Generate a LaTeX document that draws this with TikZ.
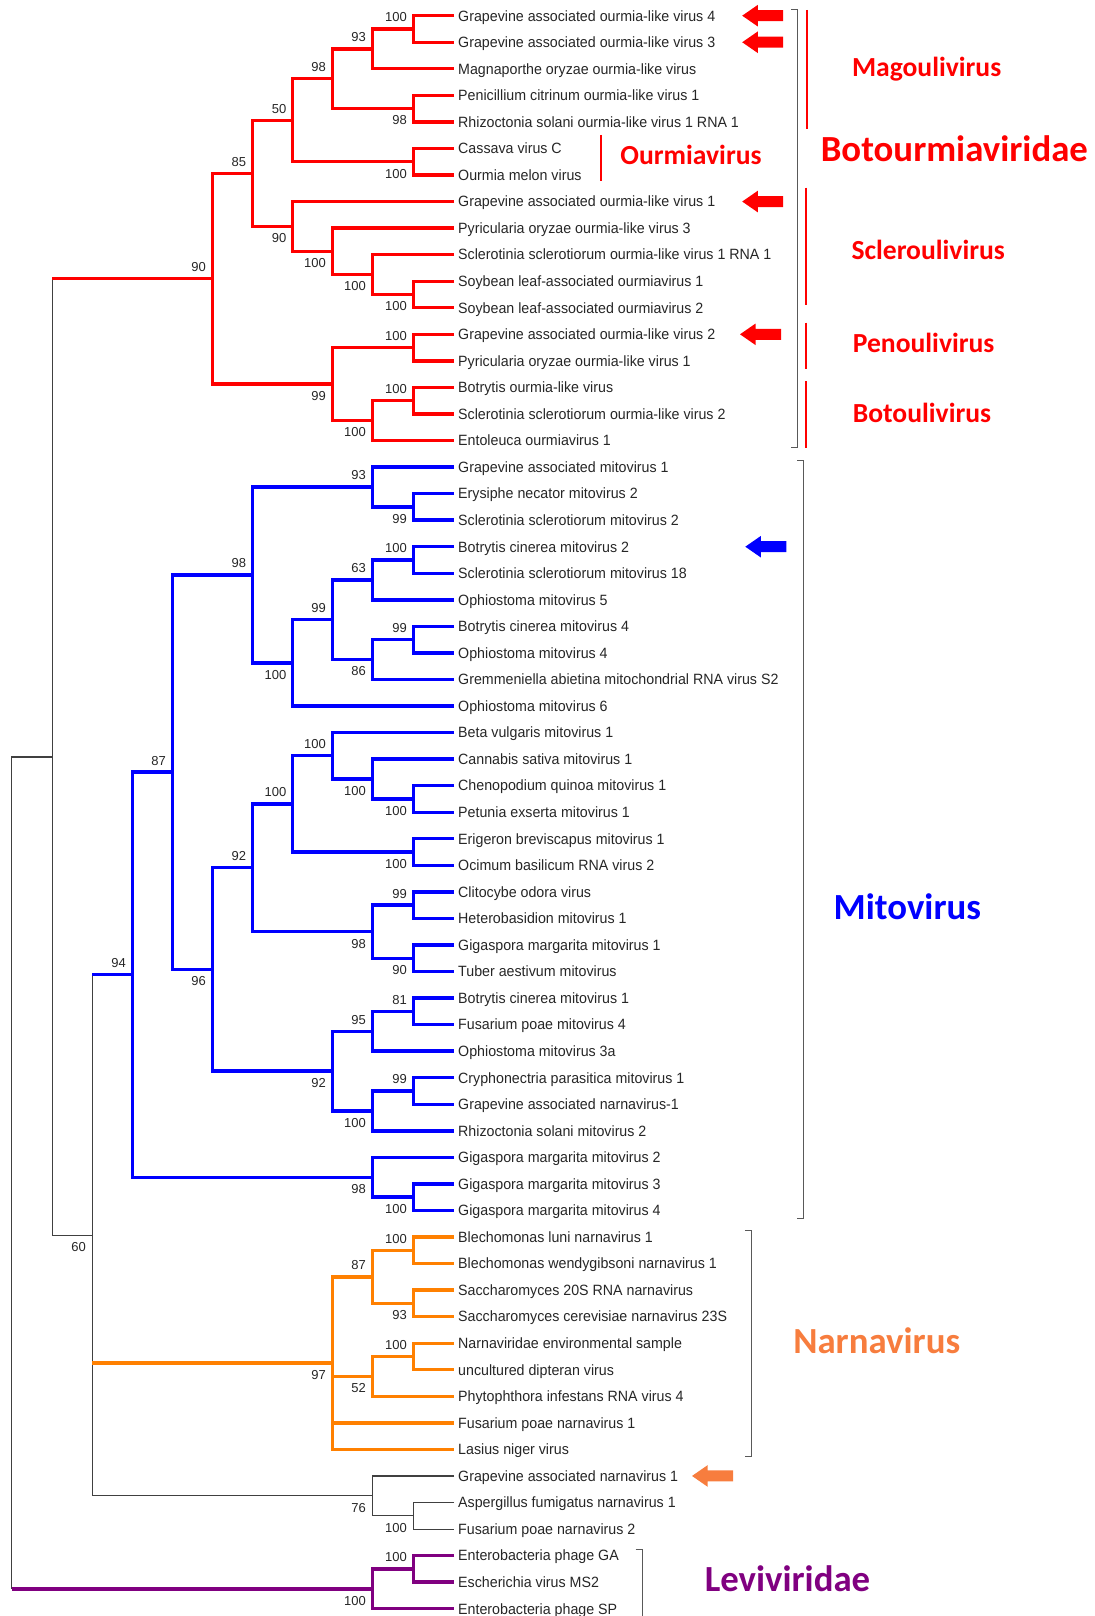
\documentclass[tikz,border=0pt]{standalone}
\usepackage{fontspec}
\setmainfont{Liberation Sans}
\newfontfamily\leaffont[FakeStretch=0.955]{Liberation Sans}
\newfontfamily\cladefont{Carlito}
\definecolor{treeorange}{RGB}{255,128,0}
\definecolor{tagorange}{RGB}{247,125,62}
\definecolor{treepurple}{RGB}{128,0,128}

\begin{document}
\begin{tikzpicture}
[
x=0.5pt, y=-13.275pt,
leaf_txt/.style={anchor=west, inner xsep=1.8pt, inner ysep=0pt, text height=5.33pt, text depth=0pt, font=\leaffont\fontsize{7.45pt}{9pt}\selectfont, text=black!85},
bs_num/.style={inner sep=0pt, text height=4.65pt, text depth=0pt, font=\fontsize{6.5pt}{7pt}\selectfont, text=black!85, xshift=-3pt},
bs_up/.style={label={[bs_num, yshift=5.85pt]left:#1}},
bs_dn/.style={label={[bs_num, yshift=-5.85pt]left:#1}},
red_br/.style={draw=red, line width=1.7pt},
blu_br/.style={draw=blue, line width=1.7pt},
org_br/.style={draw=treeorange, line width=1.7pt},
pur_br/.style={draw=treepurple, line width=1.7pt},
thin_br/.style={draw=black!75, line width=0.55pt},
bracket/.style={draw=black!65, line width=0.55pt},
genus_bar/.style={draw=red, line width=0.75pt},
genus_lab/.style={anchor=west, inner sep=0pt, text height=8.7pt, text depth=0pt, font=\cladefont\bfseries\fontsize{13.8pt}{15pt}\selectfont},
family_lab/.style={anchor=west, inner sep=0pt, text height=11.6pt, text depth=0pt, font=\cladefont\bfseries\fontsize{18.4pt}{20pt}\selectfont},
tag_arrow/.pic={\fill (0pt,0pt) -- (7.8pt,5.4pt) -- (7.8pt,2.75pt) -- (20.5pt,2.75pt) -- (20.5pt,-2.75pt) -- (7.8pt,-2.75pt) -- (7.8pt,-5.4pt) -- cycle;}
]
\useasboundingbox (0,-0.5913) rectangle (1095,60.275);

%Leaves
\node[leaf_txt] (ga_olv4)  at (454.2,0)  {Grapevine associated ourmia-like virus 4};
\node[leaf_txt] (ga_olv3)  at (454.2,1)  {Grapevine associated ourmia-like virus 3};
\node[leaf_txt] (mo_olv)   at (454.2,2)  {Magnaporthe oryzae ourmia-like virus};
\node[leaf_txt] (pc_olv1)  at (454.2,3)  {Penicillium citrinum ourmia-like virus 1};
\node[leaf_txt] (rs_olv1)  at (454.2,4)  {Rhizoctonia solani ourmia-like virus 1 RNA 1};
\node[leaf_txt] (cas_c)    at (454.2,5)  {Cassava virus C};
\node[leaf_txt] (omv)      at (454.2,6)  {Ourmia melon virus};
\node[leaf_txt] (ga_olv1)  at (454.2,7)  {Grapevine associated ourmia-like virus 1};
\node[leaf_txt] (po_olv3)  at (454.2,8)  {Pyricularia oryzae ourmia-like virus 3};
\node[leaf_txt] (ss_olv1)  at (454.2,9)  {Sclerotinia sclerotiorum ourmia-like virus 1 RNA 1};
\node[leaf_txt] (sl_ov1)   at (454.2,10) {Soybean leaf-associated ourmiavirus 1};
\node[leaf_txt] (sl_ov2)   at (454.2,11) {Soybean leaf-associated ourmiavirus 2};
\node[leaf_txt] (ga_olv2)  at (454.2,12) {Grapevine associated ourmia-like virus 2};
\node[leaf_txt] (po_olv1)  at (454.2,13) {Pyricularia oryzae ourmia-like virus 1};
\node[leaf_txt] (bo_olv)   at (454.2,14) {Botrytis ourmia-like virus};
\node[leaf_txt] (ss_olv2)  at (454.2,15) {Sclerotinia sclerotiorum ourmia-like virus 2};
\node[leaf_txt] (eo_v1)    at (454.2,16) {Entoleuca ourmiavirus 1};
\node[leaf_txt] (ga_mv1)   at (454.2,17) {Grapevine associated mitovirus 1};
\node[leaf_txt] (en_mv2)   at (454.2,18) {Erysiphe necator mitovirus 2};
\node[leaf_txt] (ss_mv2)   at (454.2,19) {Sclerotinia sclerotiorum mitovirus 2};
\node[leaf_txt] (bc_mv2)   at (454.2,20) {Botrytis cinerea mitovirus 2};
\node[leaf_txt] (ss_mv18)  at (454.2,21) {Sclerotinia sclerotiorum mitovirus 18};
\node[leaf_txt] (op_mv5)   at (454.2,22) {Ophiostoma mitovirus 5};
\node[leaf_txt] (bc_mv4)   at (454.2,23) {Botrytis cinerea mitovirus 4};
\node[leaf_txt] (op_mv4)   at (454.2,24) {Ophiostoma mitovirus 4};
\node[leaf_txt] (ga_rv)    at (454.2,25) {Gremmeniella abietina mitochondrial RNA virus S2};
\node[leaf_txt] (op_mv6)   at (454.2,26) {Ophiostoma mitovirus 6};
\node[leaf_txt] (bv_mv1)   at (454.2,27) {Beta vulgaris mitovirus 1};
\node[leaf_txt] (cs_mv1)   at (454.2,28) {Cannabis sativa mitovirus 1};
\node[leaf_txt] (cq_mv1)   at (454.2,29) {Chenopodium quinoa mitovirus 1};
\node[leaf_txt] (pe_mv1)   at (454.2,30) {Petunia exserta mitovirus 1};
\node[leaf_txt] (eb_mv1)   at (454.2,31) {Erigeron breviscapus mitovirus 1};
\node[leaf_txt] (ob_rv2)   at (454.2,32) {Ocimum basilicum RNA virus 2};
\node[leaf_txt] (co_v)     at (454.2,33) {Clitocybe odora virus};
\node[leaf_txt] (he_mv1)   at (454.2,34) {Heterobasidion mitovirus 1};
\node[leaf_txt] (gm_mv1)   at (454.2,35) {Gigaspora margarita mitovirus 1};
\node[leaf_txt] (ta_mv)    at (454.2,36) {Tuber aestivum mitovirus};
\node[leaf_txt] (bc_mv1)   at (454.2,37) {Botrytis cinerea mitovirus 1};
\node[leaf_txt] (fp_mv4)   at (454.2,38) {Fusarium poae mitovirus 4};
\node[leaf_txt] (op_mv3a)  at (454.2,39) {Ophiostoma mitovirus 3a};
\node[leaf_txt] (cp_mv1)   at (454.2,40) {Cryphonectria parasitica mitovirus 1};
\node[leaf_txt] (ga_nv_1)  at (454.2,41) {Grapevine associated narnavirus-1};
\node[leaf_txt] (rs_mv2)   at (454.2,42) {Rhizoctonia solani mitovirus 2};
\node[leaf_txt] (gm_mv2)   at (454.2,43) {Gigaspora margarita mitovirus 2};
\node[leaf_txt] (gm_mv3)   at (454.2,44) {Gigaspora margarita mitovirus 3};
\node[leaf_txt] (gm_mv4)   at (454.2,45) {Gigaspora margarita mitovirus 4};
\node[leaf_txt] (bl_nv1)   at (454.2,46) {Blechomonas luni narnavirus 1};
\node[leaf_txt] (bw_nv1)   at (454.2,47) {Blechomonas wendygibsoni narnavirus 1};
\node[leaf_txt] (sc_20s)   at (454.2,48) {Saccharomyces 20S RNA narnavirus};
\node[leaf_txt] (sc_23s)   at (454.2,49) {Saccharomyces cerevisiae narnavirus 23S};
\node[leaf_txt] (nv_env)   at (454.2,50) {Narnaviridae environmental sample};
\node[leaf_txt] (ud_v)     at (454.2,51) {uncultured dipteran virus};
\node[leaf_txt] (pi_rv4)   at (454.2,52) {Phytophthora infestans RNA virus 4};
\node[leaf_txt] (fp_nv1)   at (454.2,53) {Fusarium poae narnavirus 1};
\node[leaf_txt] (ln_v)     at (454.2,54) {Lasius niger virus};
\node[leaf_txt] (ga_nv1)   at (454.2,55) {Grapevine associated narnavirus 1};
\node[leaf_txt] (af_nv1)   at (454.2,56) {Aspergillus fumigatus narnavirus 1};
\node[leaf_txt] (fp_nv2)   at (454.2,57) {Fusarium poae narnavirus 2};
\node[leaf_txt] (ph_ga)    at (454.2,58) {Enterobacteria phage GA};
\node[leaf_txt] (ev_ms2)   at (454.2,59) {Escherichia virus MS2};
\node[leaf_txt] (ph_sp)    at (454.2,60) {Enterobacteria phage SP};

%Branch points
\coordinate[bs_up=100] (red_a) at (413.3,0.5);
\coordinate[bs_up=93]  (red_b) at (372.3,1.25);
\coordinate[bs_dn=98]  (red_c) at (413.3,3.5);
\coordinate[bs_up=98]  (red_d) at (332.3,2.375);
\coordinate[bs_dn=100] (red_e) at (413.3,5.5);
\coordinate[bs_up=50]  (red_f) at (292.7,3.9375);
\coordinate[bs_dn=100] (red_g) at (413.3,10.5);
\coordinate[bs_dn=100] (red_h) at (372.3,9.75);
\coordinate[bs_dn=100] (red_i) at (332.3,8.875);
\coordinate[bs_dn=90]  (red_j) at (292.7,7.9375);
\coordinate[bs_up=85]  (red_k) at (252.5,5.9375);
\coordinate[bs_up=100] (red_l) at (413.3,12.5);
\coordinate[bs_up=100] (red_m) at (413.3,14.5);
\coordinate[bs_dn=100] (red_n) at (372.3,15.25);
\coordinate[bs_dn=99]  (red_o) at (332.3,13.875);
\coordinate[bs_up=90]  (red_p) at (212.3,9.90625);

\coordinate[bs_dn=99]  (blu_a) at (413.3,18.5);
\coordinate[bs_up=93]  (blu_b) at (372.3,17.75);
\coordinate[bs_up=100] (blu_c) at (413.3,20.5);
\coordinate[bs_up=63]  (blu_d) at (372.3,21.25);
\coordinate[bs_up=99]  (blu_e) at (413.3,23.5);
\coordinate[bs_dn=86]  (blu_f) at (372.3,24.25);
\coordinate[bs_up=99]  (blu_g) at (332.3,22.75);
\coordinate[bs_dn=100] (blu_h) at (292.7,24.375);
\coordinate[bs_up=98]  (blu_i) at (252.5,21.0625);
\coordinate[bs_dn=100] (blu_j) at (413.3,29.5);
\coordinate[bs_dn=100] (blu_k) at (372.3,28.75);
\coordinate[bs_up=100] (blu_l) at (332.3,27.875);
\coordinate[bs_dn=100] (blu_m) at (413.3,31.5);
\coordinate[bs_up=100] (blu_n) at (292.7,29.6875);
\coordinate[bs_up=99]  (blu_o) at (413.3,33.5);
\coordinate[bs_dn=90]  (blu_p) at (413.3,35.5);
\coordinate[bs_dn=98]  (blu_q) at (372.3,34.5);
\coordinate[bs_up=92]  (blu_r) at (252.5,32.09375);
\coordinate[bs_up=81]  (blu_s) at (413.3,37.5);
\coordinate[bs_up=95]  (blu_t) at (372.3,38.25);
\coordinate[bs_up=99]  (blu_u) at (413.3,40.5);
\coordinate[bs_dn=100] (blu_v) at (372.3,41.25);
\coordinate[bs_dn=92]  (blu_w) at (332.3,39.75);
\coordinate[bs_dn=96]  (blu_x) at (212.3,35.921875);
\coordinate[bs_up=87]  (blu_y) at (172.3,28.4921875);
\coordinate[bs_dn=100] (blu_z) at (413.3,44.5);
\coordinate[bs_dn=98]  (blu_aa) at (372.3,43.75);
\coordinate[bs_up=94]  (blu_ab) at (132.3,36.12109375);

\coordinate[bs_up=100] (org_a) at (413.3,46.5);
\coordinate[bs_dn=93]  (org_b) at (413.3,48.5);
\coordinate[bs_up=87]  (org_c) at (372.3,47.5);
\coordinate[bs_up=100] (org_d) at (413.3,50.5);
\coordinate[bs_dn=52]  (org_e) at (372.3,51.25);
\coordinate[bs_dn=97]  (org_f) at (332.3,50.75);

\coordinate[bs_dn=100] (blk_a) at (413.3,56.5);
\coordinate[bs_dn=76]  (blk_b) at (372.3,55.75);
\coordinate[bs_dn=60]  (blk_c) at (92.3,45.935546875);
\coordinate            (blk_d) at (52.3,27.9208984375);

\coordinate[bs_up=100] (pur_a) at (413.3,58.5);
\coordinate[bs_dn=100] (pur_b) at (372.3,59.25);
\coordinate            (root)  at (11.7,43.5854492);

%Branches
\draw[red_br] (ga_olv4.west) -| (red_a) |- (ga_olv3.west);
\draw[red_br] (red_a) -| (red_b) |- (mo_olv.west);
\draw[red_br] (pc_olv1.west) -| (red_c) |- (rs_olv1.west);
\draw[red_br] (red_b) -| (red_d) |- (red_c);
\draw[red_br] (cas_c.west) -| (red_e) |- (omv.west);
\draw[red_br] (red_d) -| (red_f) |- (red_e);
\draw[red_br] (sl_ov1.west) -| (red_g) |- (sl_ov2.west);
\draw[red_br] (ss_olv1.west) -| (red_h) |- (red_g);
\draw[red_br] (po_olv3.west) -| (red_i) |- (red_h);
\draw[red_br] (ga_olv1.west) -| (red_j) |- (red_i);
\draw[red_br] (red_f) -| (red_k) |- (red_j);
\draw[red_br] (ga_olv2.west) -| (red_l) |- (po_olv1.west);
\draw[red_br] (bo_olv.west) -| (red_m) |- (ss_olv2.west);
\draw[red_br] (red_m) -| (red_n) |- (eo_v1.west);
\draw[red_br] (red_l) -| (red_o) |- (red_n);
\draw[red_br] (red_k) -| (red_p) |- (red_o);

\draw[blu_br] (en_mv2.west) -| (blu_a) |- (ss_mv2.west);
\draw[blu_br] (ga_mv1.west) -| (blu_b) |- (blu_a);
\draw[blu_br] (bc_mv2.west) -| (blu_c) |- (ss_mv18.west);
\draw[blu_br] (blu_c) -| (blu_d) |- (op_mv5.west);
\draw[blu_br] (bc_mv4.west) -| (blu_e) |- (op_mv4.west);
\draw[blu_br] (blu_e) -| (blu_f) |- (ga_rv.west);
\draw[blu_br] (blu_d) -| (blu_g) |- (blu_f);
\draw[blu_br] (blu_g) -| (blu_h) |- (op_mv6.west);
\draw[blu_br] (blu_b) -| (blu_i) |- (blu_h);
\draw[blu_br] (cq_mv1.west) -| (blu_j) |- (pe_mv1.west);
\draw[blu_br] (cs_mv1.west) -| (blu_k) |- (blu_j);
\draw[blu_br] (bv_mv1.west) -| (blu_l) |- (blu_k);
\draw[blu_br] (eb_mv1.west) -| (blu_m) |- (ob_rv2.west);
\draw[blu_br] (blu_l) -| (blu_n) |- (blu_m);
\draw[blu_br] (co_v.west) -| (blu_o) |- (he_mv1.west);
\draw[blu_br] (gm_mv1.west) -| (blu_p) |- (ta_mv.west);
\draw[blu_br] (blu_o) -| (blu_q) |- (blu_p);
\draw[blu_br] (blu_n) -| (blu_r) |- (blu_q);
\draw[blu_br] (bc_mv1.west) -| (blu_s) |- (fp_mv4.west);
\draw[blu_br] (blu_s) -| (blu_t) |- (op_mv3a.west);
\draw[blu_br] (cp_mv1.west) -| (blu_u) |- (ga_nv_1.west);
\draw[blu_br] (blu_u) -| (blu_v) |- (rs_mv2.west);
\draw[blu_br] (blu_t) -| (blu_w) |- (blu_v);
\draw[blu_br] (blu_r) -| (blu_x) |- (blu_w);
\draw[blu_br] (blu_i) -| (blu_y) |- (blu_x);
\draw[blu_br] (gm_mv3.west) -| (blu_z) |- (gm_mv4.west);
\draw[blu_br] (gm_mv2.west) -| (blu_aa) |- (blu_z);
\draw[blu_br] (blu_y) -| (blu_ab) |- (blu_aa);

\draw[org_br] (bl_nv1.west) -| (org_a) |- (bw_nv1.west);
\draw[org_br] (sc_20s.west) -| (org_b) |- (sc_23s.west);
\draw[org_br] (org_a) -| (org_c) |- (org_b);
\draw[org_br] (nv_env.west) -| (org_d) |- (ud_v.west);
\draw[org_br] (org_d) -| (org_e) |- (pi_rv4.west);
\draw[org_br] (org_c) -| (org_f) |- (ln_v.west);
\draw[org_br] (org_f) |- (org_e);
\draw[org_br] (org_f) |- (fp_nv1.west);

\draw[thin_br] (af_nv1.west) -| (blk_a) |- (fp_nv2.west);
\draw[thin_br] (ga_nv1.west) -| (blk_b) |- (blk_a);
\draw[thin_br] (blk_c |- blu_ab) |- (blk_b);
\draw[blu_br] (blk_c |- blu_ab) -- (blu_ab);
\draw[org_br] (blk_c |- org_f) -- (org_f);
\draw[thin_br] (blk_d |- red_p) |- (blk_c);
\draw[red_br] (blk_d |- red_p) -- (red_p);

\draw[pur_br] (ph_ga.west) -| (pur_a) |- (ev_ms2.west);
\draw[pur_br] (pur_a) -| (pur_b) |- (ph_sp.west);
\draw[thin_br] (blk_d) -| (root) -- (root |- pur_b);
\draw[pur_br] (root |- pur_b) -- (pur_b);

%Clades
\draw[bracket] (791.1,-0.25) -- (797.8,-0.25) -- (797.8,16.27) -- (791.1,16.27);
\draw[bracket] (797,16.75) -- (803.1,16.75) -- (803.1,45.3) -- (797,45.3);
\draw[bracket] (744.9,45.76) -- (751.6,45.76) -- (751.6,54.27) -- (744.9,54.27);
\draw[bracket] (635.6,57.76) -- (642.2,57.76) -- (642.2,60.5);

\draw[genus_bar] (807.1,-0.22) -- (807.1,4.27);
\draw[genus_bar] (600.9,4.49) -- (600.9,6.23);
\draw[genus_bar] (805.8,6.48) -- (805.8,10.9);
\draw[genus_bar] (805.8,11.56) -- (805.8,13.31);
\draw[genus_bar] (805.8,13.77) -- (805.8,16.29);

\node[genus_lab, text=red]  (lab_mago)   at (851.6,1.96)  {Magoulivirus};
\node[genus_lab, text=red]  (lab_ourmia) at (620,5.28)    {Ourmiavirus};
\node[family_lab, text=red] (lab_botour) at (820.4,5.06)  {Botourmiaviridae};
\node[genus_lab, text=red]  (lab_sclero) at (851.1,8.84)  {Scleroulivirus};
\node[genus_lab, text=red]  (lab_peno)   at (852.4,12.34) {Penoulivirus};
\node[genus_lab, text=red]  (lab_boto)   at (852.4,15.01) {Botoulivirus};
\node[family_lab, text=blue]       (lab_mito)  at (833.3,33.62) {Mitovirus};
\node[family_lab, text=tagorange]  (lab_narna) at (792.9,49.96) {Narnavirus};
\node[family_lab, text=treepurple] (lab_levi)  at (704.4,58.9)  {Leviviridae};

%Arrows
\pic[red]       at (742.2,0)  {tag_arrow};
\pic[red]       at (742.2,1)  {tag_arrow};
\pic[red]       at (742.2,7)  {tag_arrow};
\pic[red]       at (740,12)   {tag_arrow};
\pic[blue]      at (745.3,20) {tag_arrow};
\pic[tagorange] at (692,55)   {tag_arrow};
\end{tikzpicture}
\end{document}
